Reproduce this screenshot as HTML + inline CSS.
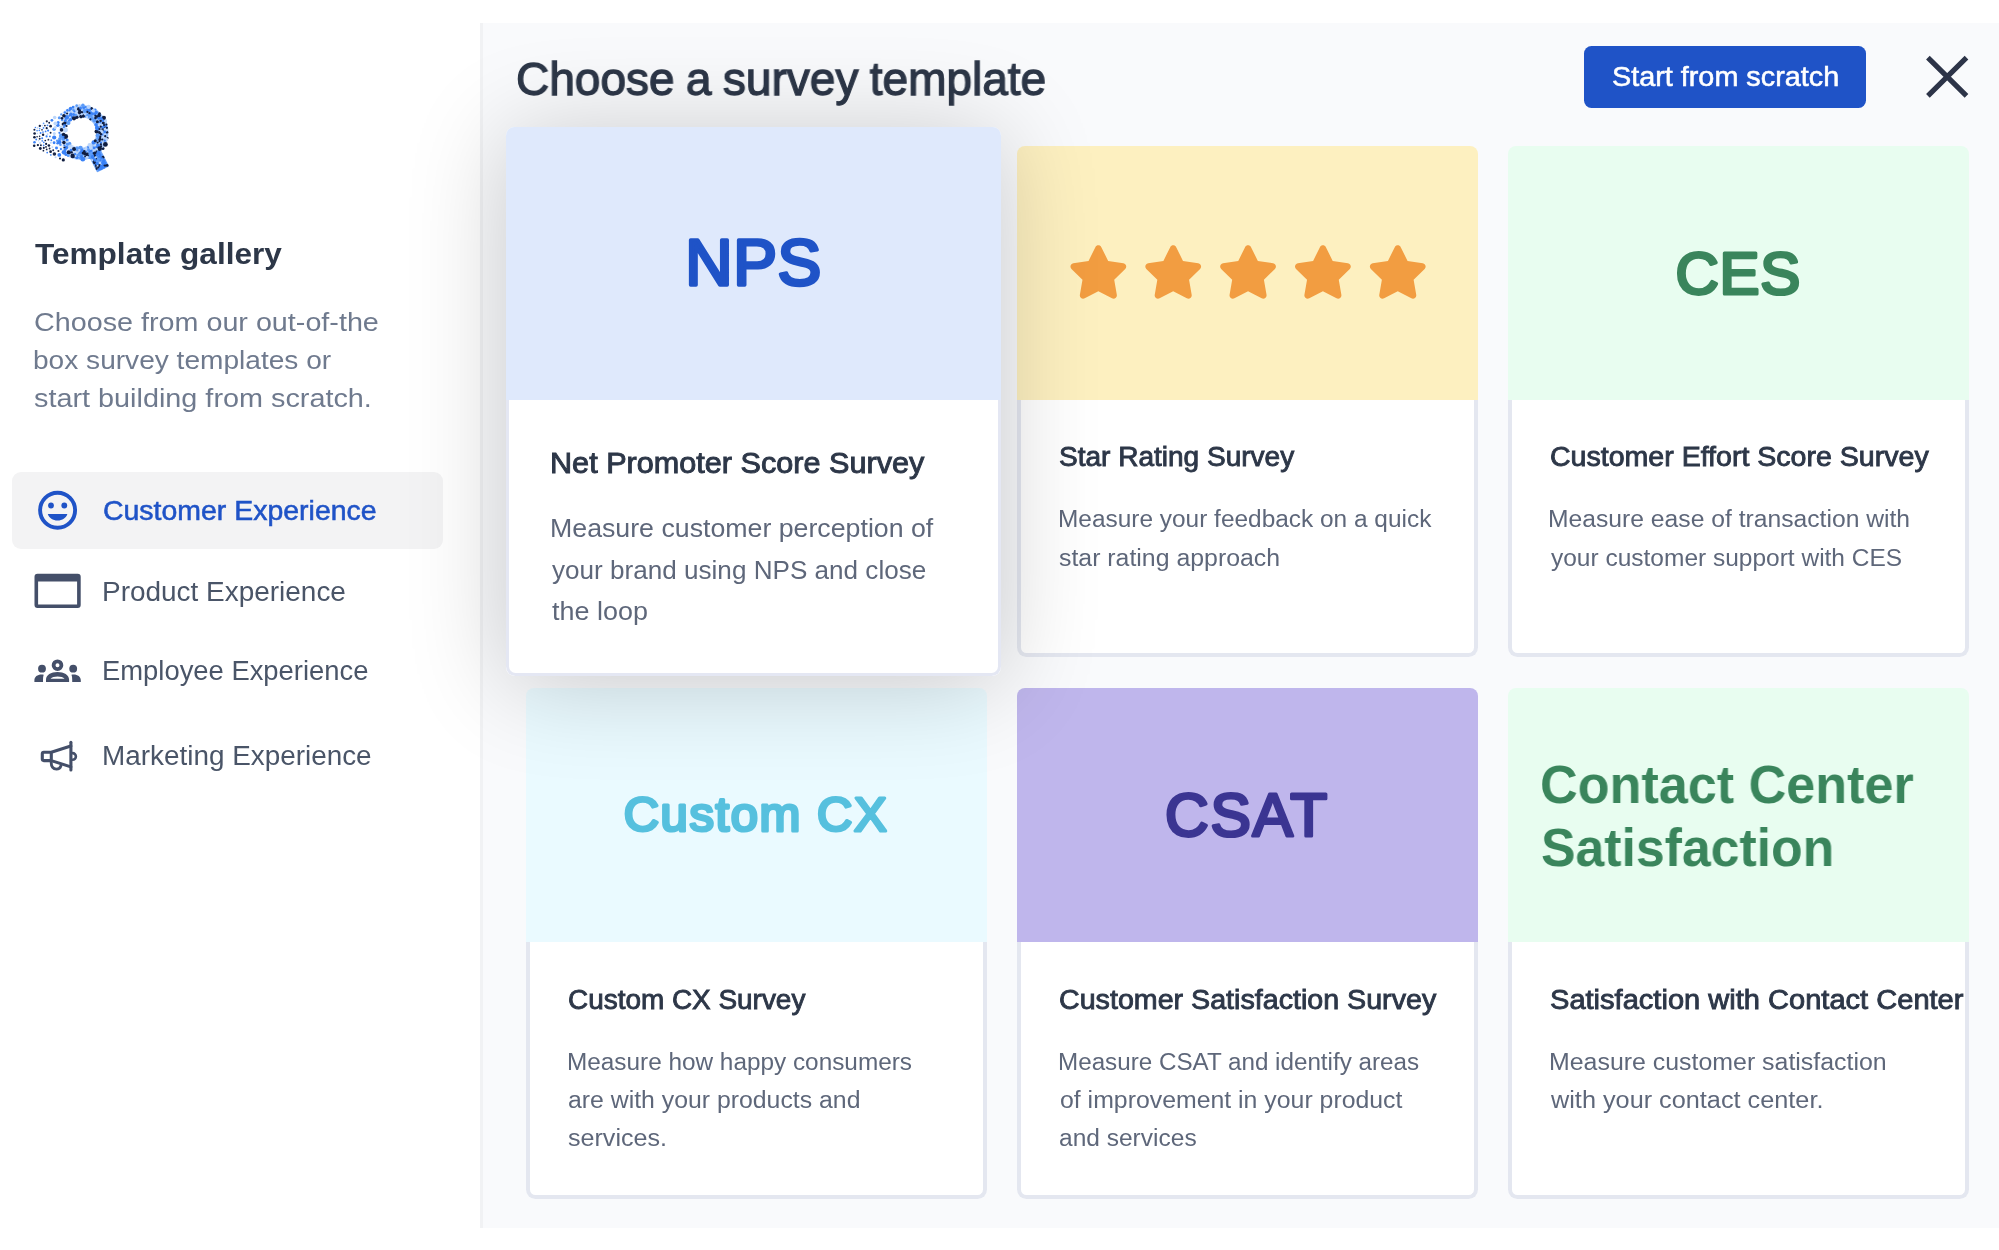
<!DOCTYPE html>
<html lang="en"><head><meta charset="utf-8"><title>Choose a survey template</title>
<style>
*{box-sizing:border-box;margin:0;padding:0}
html,body{width:1999px;height:1250px;overflow:hidden;background:#fff}
body{position:relative;font-family:"Liberation Sans",Arial,sans-serif;color:#2d3748}
.abs{position:absolute}
.tx{position:absolute;white-space:nowrap;line-height:1;transform-origin:0 50%;will-change:transform}
#main{position:absolute;left:480px;top:23px;width:1519px;height:1205px;background:#f9fafc;border-left:3px solid #f1f2f4}
.nav-active{position:absolute;left:12px;top:472px;width:431px;height:77px;background:#f3f3f4;border-radius:9px}
.btn{position:absolute;left:1584px;top:46px;width:282px;height:61.5px;background:#1f53c7;border-radius:7.5px}
.card{position:absolute;width:460.5px;height:511.4px}
.card .head{position:absolute;left:0;top:0;width:100%;height:254px;border-radius:8px 8px 0 0}
.card .body{position:absolute;left:0;top:254px;width:100%;bottom:0;background:#fff;border:4px solid #e4e7f0;border-top:none;border-radius:0 0 9.5px 9.5px}
.card.hover{left:506.4px;top:126.8px;width:494.8px;height:549.7px;box-shadow:0 7px 100px rgba(0,0,0,.2);z-index:5;border-radius:8.5px}
.card.hover .head{height:272.8px;border-radius:8.5px 8.5px 0 0}
.card.hover .body{top:272.8px;border-width:3.6px;border-color:#e4e7f3;border-radius:0 0 9.5px 9.5px}
</style></head>
<body>
<div id="main"></div>
<svg class="abs" style="left:0;top:0" width="140" height="200" viewBox="0 0 140 200"><defs><linearGradient id="lg" gradientUnits="userSpaceOnUse" x1="56" y1="0" x2="84" y2="0"><stop offset="0" stop-color="#6ea6f9" stop-opacity="0"/><stop offset="1" stop-color="#5b9bf8" stop-opacity=".6"/></linearGradient></defs>
<circle cx="81.0" cy="132.5" r="21.4" fill="none" stroke="url(#lg)" stroke-width="12.2"/>
<g transform="translate(98.6 160.5) rotate(-27)"><rect x="-6.8" y="-10" width="13.6" height="20" fill="#4a8ef7" opacity=".8" rx="1"/></g>
<circle cx="59.8" cy="139.0" r="1.8" fill="#5b9bf8"/>
<circle cx="91.9" cy="118.4" r="1.8" fill="#5b9bf8"/>
<circle cx="85.5" cy="116.4" r="1.1" fill="#5b9bf8"/>
<circle cx="98.8" cy="117.9" r="1.8" fill="#3b82f6"/>
<circle cx="102.7" cy="134.5" r="1.3" fill="#3b82f6"/>
<circle cx="69.5" cy="115.7" r="1.1" fill="#3b82f6"/>
<circle cx="103.2" cy="143.0" r="1.5" fill="#bcd6fb"/>
<circle cx="105.6" cy="125.9" r="1.3" fill="#3b82f6"/>
<circle cx="99.9" cy="139.0" r="1.8" fill="#0f1d40"/>
<circle cx="97.6" cy="142.6" r="1.1" fill="#0f1d40"/>
<circle cx="76.8" cy="117.3" r="1.8" fill="#0f1d40"/>
<circle cx="79.1" cy="115.5" r="1.1" fill="#bcd6fb"/>
<circle cx="96.6" cy="131.5" r="2.1" fill="#0f1d40"/>
<circle cx="94.5" cy="120.5" r="2.1" fill="#5b9bf8"/>
<circle cx="103.0" cy="148.5" r="1.5" fill="#0f1d40"/>
<circle cx="97.1" cy="140.6" r="1.1" fill="#5b9bf8"/>
<circle cx="66.5" cy="147.6" r="1.8" fill="#3b82f6"/>
<circle cx="94.2" cy="147.7" r="1.5" fill="#3b82f6"/>
<circle cx="88.7" cy="115.6" r="2.4" fill="#5b9bf8"/>
<circle cx="97.7" cy="146.2" r="2.4" fill="#3b82f6"/>
<circle cx="79.9" cy="157.7" r="1.5" fill="#5b9bf8"/>
<circle cx="105.4" cy="120.9" r="1.8" fill="#bcd6fb"/>
<circle cx="94.7" cy="114.3" r="1.3" fill="#3b82f6"/>
<circle cx="99.5" cy="141.1" r="1.1" fill="#0f1d40"/>
<circle cx="64.1" cy="152.3" r="2.4" fill="#3b82f6"/>
<circle cx="99.8" cy="122.7" r="1.5" fill="#3b82f6"/>
<circle cx="103.3" cy="123.1" r="1.5" fill="#0f1d40"/>
<circle cx="70.6" cy="108.5" r="1.8" fill="#3b82f6"/>
<circle cx="64.4" cy="147.6" r="1.1" fill="#0f1d40"/>
<circle cx="94.9" cy="144.9" r="1.5" fill="#bcd6fb"/>
<circle cx="78.9" cy="110.2" r="2.1" fill="#0f1d40"/>
<circle cx="81.0" cy="116.6" r="1.8" fill="#0f1d40"/>
<circle cx="97.3" cy="128.0" r="2.4" fill="#3b82f6"/>
<circle cx="80.4" cy="148.2" r="2.4" fill="#5b9bf8"/>
<circle cx="72.0" cy="117.0" r="1.3" fill="#3b82f6"/>
<circle cx="91.2" cy="150.7" r="1.3" fill="#3b82f6"/>
<circle cx="95.4" cy="109.5" r="1.1" fill="#3b82f6"/>
<circle cx="77.0" cy="154.9" r="1.5" fill="#5b9bf8"/>
<circle cx="66.7" cy="117.4" r="2.4" fill="#3b82f6"/>
<circle cx="84.9" cy="110.9" r="2.1" fill="#5b9bf8"/>
<circle cx="81.8" cy="112.3" r="1.3" fill="#0f1d40"/>
<circle cx="89.5" cy="157.0" r="2.1" fill="#5b9bf8"/>
<circle cx="99.1" cy="115.4" r="1.8" fill="#0f1d40"/>
<circle cx="96.1" cy="124.7" r="1.8" fill="#3b82f6"/>
<circle cx="102.7" cy="129.4" r="1.5" fill="#0f1d40"/>
<circle cx="54.2" cy="137.5" r="2.1" fill="#3b82f6"/>
<circle cx="91.8" cy="113.2" r="2.1" fill="#3b82f6"/>
<circle cx="61.2" cy="127.6" r="1.8" fill="#bcd6fb"/>
<circle cx="91.5" cy="108.6" r="1.5" fill="#0f1d40"/>
<circle cx="89.8" cy="145.5" r="2.4" fill="#bcd6fb"/>
<circle cx="68.7" cy="121.0" r="1.1" fill="#3b82f6"/>
<circle cx="63.9" cy="115.7" r="1.8" fill="#0f1d40"/>
<circle cx="87.5" cy="154.5" r="2.1" fill="#0f1d40"/>
<circle cx="100.7" cy="120.8" r="1.3" fill="#0f1d40"/>
<circle cx="107.0" cy="132.2" r="1.3" fill="#0f1d40"/>
<circle cx="63.1" cy="124.1" r="1.5" fill="#0f1d40"/>
<circle cx="93.6" cy="142.4" r="2.1" fill="#3b82f6"/>
<circle cx="104.7" cy="134.5" r="1.3" fill="#bcd6fb"/>
<circle cx="88.6" cy="109.9" r="2.4" fill="#3b82f6"/>
<circle cx="64.8" cy="124.9" r="1.5" fill="#3b82f6"/>
<circle cx="85.8" cy="149.6" r="1.5" fill="#bcd6fb"/>
<circle cx="68.8" cy="152.4" r="2.1" fill="#0f1d40"/>
<circle cx="87.0" cy="117.1" r="1.1" fill="#bcd6fb"/>
<circle cx="99.6" cy="124.9" r="1.8" fill="#bcd6fb"/>
<circle cx="76.6" cy="152.3" r="2.1" fill="#bcd6fb"/>
<circle cx="60.9" cy="149.1" r="1.1" fill="#3b82f6"/>
<circle cx="77.7" cy="113.4" r="1.3" fill="#bcd6fb"/>
<circle cx="69.7" cy="145.5" r="2.1" fill="#bcd6fb"/>
<circle cx="72.2" cy="112.1" r="2.4" fill="#bcd6fb"/>
<circle cx="82.8" cy="159.2" r="2.4" fill="#3b82f6"/>
<circle cx="90.7" cy="148.0" r="1.8" fill="#bcd6fb"/>
<circle cx="85.8" cy="151.5" r="1.1" fill="#3b82f6"/>
<circle cx="57.2" cy="140.7" r="1.3" fill="#5b9bf8"/>
<circle cx="57.8" cy="125.2" r="1.8" fill="#3b82f6"/>
<circle cx="89.4" cy="113.2" r="1.1" fill="#0f1d40"/>
<circle cx="59.3" cy="117.8" r="1.5" fill="#5b9bf8"/>
<circle cx="104.6" cy="127.6" r="1.1" fill="#0f1d40"/>
<circle cx="67.4" cy="144.1" r="1.8" fill="#5b9bf8"/>
<circle cx="97.3" cy="138.7" r="1.1" fill="#5b9bf8"/>
<circle cx="95.3" cy="140.8" r="1.5" fill="#0f1d40"/>
<circle cx="97.4" cy="121.8" r="1.5" fill="#0f1d40"/>
<circle cx="96.2" cy="112.6" r="1.8" fill="#3b82f6"/>
<circle cx="79.5" cy="105.3" r="1.3" fill="#bcd6fb"/>
<circle cx="74.1" cy="149.0" r="2.1" fill="#0f1d40"/>
<circle cx="88.5" cy="149.8" r="1.5" fill="#5b9bf8"/>
<circle cx="83.3" cy="116.0" r="1.8" fill="#0f1d40"/>
<circle cx="61.3" cy="135.9" r="2.4" fill="#5b9bf8"/>
<circle cx="95.5" cy="118.0" r="1.3" fill="#0f1d40"/>
<circle cx="72.8" cy="155.9" r="2.4" fill="#0f1d40"/>
<circle cx="54.3" cy="133.5" r="1.5" fill="#bcd6fb"/>
<circle cx="64.5" cy="145.5" r="1.1" fill="#3b82f6"/>
<circle cx="101.0" cy="134.1" r="1.3" fill="#0f1d40"/>
<circle cx="99.6" cy="148.6" r="2.4" fill="#0f1d40"/>
<circle cx="96.6" cy="149.4" r="1.3" fill="#bcd6fb"/>
<circle cx="107.6" cy="138.0" r="1.1" fill="#0f1d40"/>
<circle cx="83.7" cy="107.4" r="1.5" fill="#3b82f6"/>
<circle cx="105.7" cy="129.7" r="2.1" fill="#bcd6fb"/>
<circle cx="66.5" cy="126.0" r="1.1" fill="#0f1d40"/>
<circle cx="102.6" cy="146.6" r="1.1" fill="#bcd6fb"/>
<circle cx="103.9" cy="117.8" r="2.1" fill="#0f1d40"/>
<circle cx="82.3" cy="154.8" r="1.3" fill="#5b9bf8"/>
<circle cx="102.9" cy="126.8" r="1.8" fill="#3b82f6"/>
<circle cx="67.1" cy="140.1" r="1.5" fill="#3b82f6"/>
<circle cx="85.3" cy="156.5" r="1.1" fill="#0f1d40"/>
<circle cx="99.5" cy="132.6" r="1.5" fill="#0f1d40"/>
<circle cx="96.3" cy="151.8" r="1.3" fill="#0f1d40"/>
<circle cx="91.4" cy="115.7" r="1.3" fill="#5b9bf8"/>
<circle cx="84.2" cy="151.4" r="1.3" fill="#0f1d40"/>
<circle cx="77.0" cy="111.4" r="1.5" fill="#bcd6fb"/>
<circle cx="67.4" cy="110.4" r="1.3" fill="#3b82f6"/>
<circle cx="70.4" cy="119.7" r="1.8" fill="#3b82f6"/>
<circle cx="94.9" cy="155.8" r="1.3" fill="#0f1d40"/>
<circle cx="64.0" cy="127.2" r="1.1" fill="#3b82f6"/>
<circle cx="79.7" cy="154.4" r="2.1" fill="#5b9bf8"/>
<circle cx="103.0" cy="137.5" r="2.1" fill="#bcd6fb"/>
<circle cx="82.3" cy="149.8" r="1.1" fill="#3b82f6"/>
<circle cx="93.1" cy="110.8" r="1.8" fill="#bcd6fb"/>
<circle cx="73.4" cy="109.9" r="1.3" fill="#5b9bf8"/>
<circle cx="82.9" cy="105.4" r="1.8" fill="#5b9bf8"/>
<circle cx="94.2" cy="150.8" r="1.5" fill="#bcd6fb"/>
<circle cx="58.1" cy="122.4" r="1.5" fill="#3b82f6"/>
<circle cx="84.9" cy="114.3" r="1.1" fill="#bcd6fb"/>
<circle cx="75.7" cy="115.1" r="1.3" fill="#5b9bf8"/>
<circle cx="92.7" cy="152.8" r="1.1" fill="#3b82f6"/>
<circle cx="74.4" cy="111.4" r="1.1" fill="#3b82f6"/>
<circle cx="99.9" cy="136.8" r="1.5" fill="#0f1d40"/>
<circle cx="76.9" cy="157.5" r="1.8" fill="#3b82f6"/>
<circle cx="85.1" cy="153.8" r="1.8" fill="#0f1d40"/>
<circle cx="63.9" cy="142.6" r="1.8" fill="#0f1d40"/>
<circle cx="81.1" cy="151.9" r="2.1" fill="#3b82f6"/>
<circle cx="63.6" cy="134.6" r="1.8" fill="#0f1d40"/>
<circle cx="75.6" cy="156.0" r="1.1" fill="#bcd6fb"/>
<circle cx="89.7" cy="151.9" r="1.3" fill="#3b82f6"/>
<circle cx="65.1" cy="149.5" r="1.5" fill="#3b82f6"/>
<circle cx="71.5" cy="152.2" r="1.3" fill="#0f1d40"/>
<circle cx="101.6" cy="130.9" r="1.3" fill="#bcd6fb"/>
<circle cx="85.9" cy="107.0" r="1.1" fill="#3b82f6"/>
<circle cx="65.5" cy="130.0" r="2.4" fill="#bcd6fb"/>
<circle cx="106.4" cy="139.5" r="1.8" fill="#bcd6fb"/>
<circle cx="62.2" cy="120.0" r="1.3" fill="#5b9bf8"/>
<circle cx="87.4" cy="111.9" r="1.1" fill="#0f1d40"/>
<circle cx="105.4" cy="144.4" r="2.4" fill="#0f1d40"/>
<circle cx="104.7" cy="131.7" r="1.5" fill="#3b82f6"/>
<circle cx="61.2" cy="114.4" r="1.1" fill="#5b9bf8"/>
<circle cx="97.6" cy="135.5" r="2.1" fill="#5b9bf8"/>
<circle cx="90.3" cy="119.3" r="1.1" fill="#0f1d40"/>
<circle cx="102.0" cy="125.2" r="1.1" fill="#bcd6fb"/>
<circle cx="59.4" cy="132.8" r="1.1" fill="#3b82f6"/>
<circle cx="102.3" cy="132.5" r="1.1" fill="#bcd6fb"/>
<circle cx="103.0" cy="120.7" r="1.3" fill="#3b82f6"/>
<circle cx="73.1" cy="107.1" r="1.3" fill="#3b82f6"/>
<circle cx="61.5" cy="129.9" r="1.8" fill="#0f1d40"/>
<circle cx="90.4" cy="154.1" r="2.1" fill="#5b9bf8"/>
<circle cx="69.6" cy="110.4" r="1.1" fill="#3b82f6"/>
<circle cx="100.7" cy="126.7" r="1.1" fill="#0f1d40"/>
<circle cx="105.2" cy="136.2" r="1.1" fill="#0f1d40"/>
<circle cx="65.1" cy="122.8" r="1.8" fill="#0f1d40"/>
<circle cx="69.7" cy="143.3" r="1.5" fill="#5b9bf8"/>
<circle cx="99.5" cy="129.0" r="1.1" fill="#0f1d40"/>
<circle cx="102.3" cy="139.5" r="1.1" fill="#0f1d40"/>
<circle cx="81.5" cy="156.6" r="1.5" fill="#3b82f6"/>
<circle cx="70.9" cy="114.4" r="1.8" fill="#3b82f6"/>
<circle cx="68.2" cy="155.6" r="1.5" fill="#5b9bf8"/>
<circle cx="59.4" cy="142.2" r="2.1" fill="#3b82f6"/>
<circle cx="67.1" cy="113.5" r="1.1" fill="#0f1d40"/>
<circle cx="79.0" cy="150.4" r="1.3" fill="#bcd6fb"/>
<circle cx="99.5" cy="113.5" r="1.3" fill="#0f1d40"/>
<circle cx="65.4" cy="120.5" r="1.5" fill="#3b82f6"/>
<circle cx="71.0" cy="150.1" r="1.3" fill="#3b82f6"/>
<circle cx="87.9" cy="147.3" r="1.1" fill="#3b82f6"/>
<circle cx="96.9" cy="116.5" r="1.3" fill="#0f1d40"/>
<circle cx="54.1" cy="129.3" r="1.8" fill="#5b9bf8"/>
<circle cx="68.4" cy="123.0" r="2.1" fill="#5b9bf8"/>
<circle cx="101.0" cy="142.8" r="1.1" fill="#3b82f6"/>
<circle cx="77.0" cy="147.8" r="1.5" fill="#5b9bf8"/>
<circle cx="106.4" cy="124.5" r="1.1" fill="#0f1d40"/>
<circle cx="63.3" cy="138.9" r="2.1" fill="#5b9bf8"/>
<circle cx="80.5" cy="107.9" r="1.5" fill="#3b82f6"/>
<circle cx="62.0" cy="118.2" r="1.3" fill="#0f1d40"/>
<circle cx="98.5" cy="152.9" r="2.1" fill="#3b82f6"/>
<circle cx="74.0" cy="118.3" r="2.1" fill="#0f1d40"/>
<circle cx="65.7" cy="136.5" r="2.4" fill="#0f1d40"/>
<circle cx="86.1" cy="147.7" r="1.3" fill="#bcd6fb"/>
<circle cx="60.4" cy="144.8" r="1.3" fill="#5b9bf8"/>
<circle cx="57.6" cy="143.3" r="1.3" fill="#3b82f6"/>
<circle cx="88.6" cy="106.9" r="2.1" fill="#bcd6fb"/>
<circle cx="101.1" cy="146.3" r="1.1" fill="#0f1d40"/>
<circle cx="65.9" cy="154.6" r="1.5" fill="#3b82f6"/>
<circle cx="64.9" cy="112.5" r="1.3" fill="#3b82f6"/>
<circle cx="75.1" cy="154.0" r="1.1" fill="#3b82f6"/>
<circle cx="104.1" cy="125.0" r="1.1" fill="#0f1d40"/>
<circle cx="104.8" cy="140.7" r="1.1" fill="#3b82f6"/>
<circle cx="100.9" cy="144.3" r="1.1" fill="#0f1d40"/>
<circle cx="73.6" cy="114.6" r="1.5" fill="#3b82f6"/>
<circle cx="77.2" cy="150.1" r="1.3" fill="#5b9bf8"/>
<circle cx="101.1" cy="118.6" r="1.5" fill="#3b82f6"/>
<circle cx="83.2" cy="152.9" r="1.5" fill="#0f1d40"/>
<circle cx="78.3" cy="108.3" r="1.1" fill="#0f1d40"/>
<circle cx="79.6" cy="112.6" r="1.8" fill="#0f1d40"/>
<circle cx="92.6" cy="156.9" r="1.8" fill="#3b82f6"/>
<circle cx="106.9" cy="127.8" r="1.1" fill="#0f1d40"/>
<circle cx="55.2" cy="127.4" r="1.5" fill="#bcd6fb"/>
<circle cx="87.1" cy="157.3" r="1.5" fill="#bcd6fb"/>
<circle cx="63.5" cy="136.9" r="1.1" fill="#3b82f6"/>
<circle cx="67.4" cy="141.9" r="1.1" fill="#bcd6fb"/>
<circle cx="98.2" cy="137.7" r="1.1" fill="#5b9bf8"/>
<circle cx="81.7" cy="114.3" r="1.1" fill="#bcd6fb"/>
<circle cx="76.7" cy="105.6" r="1.3" fill="#5b9bf8"/>
<circle cx="95.4" cy="115.8" r="1.1" fill="#0f1d40"/>
<circle cx="55.5" cy="123.5" r="2.1" fill="#bcd6fb"/>
<circle cx="97.5" cy="156.5" r="1.4" fill="#5b9bf8"/>
<circle cx="103.8" cy="160.7" r="1.7" fill="#3b82f6"/>
<circle cx="99.9" cy="157.0" r="2.0" fill="#3b82f6"/>
<circle cx="96.3" cy="166.7" r="1.1" fill="#0f1d40"/>
<circle cx="100.5" cy="163.5" r="2.0" fill="#bcd6fb"/>
<circle cx="94.6" cy="162.6" r="1.7" fill="#0f1d40"/>
<circle cx="96.4" cy="158.9" r="1.1" fill="#0f1d40"/>
<circle cx="98.6" cy="159.6" r="2.0" fill="#5b9bf8"/>
<circle cx="93.5" cy="160.9" r="1.1" fill="#0f1d40"/>
<circle cx="103.0" cy="157.2" r="1.4" fill="#0f1d40"/>
<circle cx="99.4" cy="165.8" r="1.7" fill="#0f1d40"/>
<circle cx="96.0" cy="165.1" r="1.1" fill="#0f1d40"/>
<circle cx="103.6" cy="164.5" r="1.4" fill="#3b82f6"/>
<circle cx="96.7" cy="168.8" r="1.1" fill="#0f1d40"/>
<circle cx="103.6" cy="166.7" r="2.0" fill="#3b82f6"/>
<circle cx="105.1" cy="165.3" r="1.4" fill="#0f1d40"/>
<circle cx="100.5" cy="160.3" r="1.1" fill="#3b82f6"/>
<circle cx="100.9" cy="168.2" r="2.0" fill="#3b82f6"/>
<circle cx="101.4" cy="166.0" r="1.4" fill="#3b82f6"/>
<circle cx="94.6" cy="153.3" r="1.7" fill="#0f1d40"/>
<circle cx="102.7" cy="162.7" r="1.7" fill="#3b82f6"/>
<circle cx="98.9" cy="169.6" r="1.1" fill="#3b82f6"/>
<circle cx="97.1" cy="163.4" r="1.7" fill="#3b82f6"/>
<circle cx="92.3" cy="160.2" r="1.1" fill="#bcd6fb"/>
<circle cx="100.2" cy="154.9" r="1.4" fill="#3b82f6"/>
<circle cx="95.0" cy="160.1" r="1.7" fill="#3b82f6"/>
<circle cx="107.1" cy="165.4" r="1.4" fill="#0f1d40"/>
<circle cx="93.4" cy="158.6" r="1.1" fill="#3b82f6"/>
<circle cx="102.0" cy="158.4" r="1.1" fill="#3b82f6"/>
<circle cx="105.0" cy="163.1" r="1.7" fill="#3b82f6"/>
<circle cx="97.6" cy="166.2" r="1.1" fill="#bcd6fb"/>
<circle cx="95.7" cy="157.3" r="1.1" fill="#bcd6fb"/>
<circle cx="98.2" cy="167.4" r="1.1" fill="#0f1d40"/>
<circle cx="97.0" cy="154.8" r="1.4" fill="#3b82f6"/>
<circle cx="43.8" cy="147.9" r="1.04" fill="#0f1d40"/>
<circle cx="56.5" cy="148.1" r="1.48" fill="#3b82f6"/>
<circle cx="54.7" cy="117.5" r="1.78" fill="#bcd6fb"/>
<circle cx="50.6" cy="126.2" r="1.36" fill="#0f1d40"/>
<circle cx="50.6" cy="151.7" r="1.36" fill="#0f1d40"/>
<circle cx="59.3" cy="154.9" r="1.89" fill="#3b82f6"/>
<circle cx="40.9" cy="145.2" r="0.99" fill="#1e2a4a"/>
<circle cx="43.1" cy="134.7" r="1.22" fill="#0f1d40"/>
<circle cx="34.6" cy="133.5" r="1.30" fill="#0f1d40"/>
<circle cx="37.1" cy="130.6" r="0.93" fill="#5b9bf8"/>
<circle cx="54.4" cy="153.9" r="1.77" fill="#1e2a4a"/>
<circle cx="42.3" cy="125.6" r="0.83" fill="#bcd6fb"/>
<circle cx="37.9" cy="145.1" r="1.12" fill="#0f1d40"/>
<circle cx="40.1" cy="142.9" r="0.98" fill="#bcd6fb"/>
<circle cx="47.5" cy="125.3" r="0.90" fill="#3b82f6"/>
<circle cx="39.7" cy="128.6" r="0.80" fill="#5b9bf8"/>
<circle cx="54.1" cy="142.7" r="1.43" fill="#3b82f6"/>
<circle cx="63.3" cy="159.9" r="1.61" fill="#0f1d40"/>
<circle cx="43.5" cy="127.9" r="0.85" fill="#3b82f6"/>
<circle cx="48.9" cy="145.5" r="1.33" fill="#0f1d40"/>
<circle cx="46.7" cy="149.4" r="0.89" fill="#0f1d40"/>
<circle cx="39.7" cy="138.7" r="0.97" fill="#1e2a4a"/>
<circle cx="46.8" cy="121.3" r="1.09" fill="#1e2a4a"/>
<circle cx="47.5" cy="134.1" r="0.90" fill="#bcd6fb"/>
<circle cx="51.9" cy="120.3" r="1.39" fill="#3b82f6"/>
<circle cx="48.4" cy="139.7" r="0.91" fill="#1e2a4a"/>
<circle cx="37.5" cy="127.9" r="0.94" fill="#bcd6fb"/>
<circle cx="46.6" cy="136.4" r="1.09" fill="#3b82f6"/>
<circle cx="51.3" cy="140.3" r="0.95" fill="#3b82f6"/>
<circle cx="43.4" cy="150.7" r="0.85" fill="#0f1d40"/>
<circle cx="34.4" cy="129.8" r="1.05" fill="#0f1d40"/>
<circle cx="45.6" cy="131.4" r="0.88" fill="#3b82f6"/>
<circle cx="46.1" cy="143.9" r="1.08" fill="#0f1d40"/>
<circle cx="37.3" cy="133.4" r="0.76" fill="#bcd6fb"/>
<circle cx="50.6" cy="132.8" r="0.94" fill="#0f1d40"/>
<circle cx="49.9" cy="136.4" r="0.94" fill="#3b82f6"/>
<circle cx="39.6" cy="136.2" r="0.80" fill="#0f1d40"/>
<circle cx="49.2" cy="122.7" r="0.93" fill="#0f1d40"/>
<circle cx="49.6" cy="148.5" r="0.93" fill="#1e2a4a"/>
<circle cx="36.2" cy="139.5" r="0.92" fill="#3b82f6"/>
<circle cx="46.7" cy="128.2" r="1.09" fill="#0f1d40"/>
<circle cx="40.3" cy="148.5" r="1.43" fill="#0f1d40"/>
<circle cx="52.4" cy="147.1" r="0.97" fill="#bcd6fb"/>
<circle cx="42.2" cy="138.2" r="1.01" fill="#3b82f6"/>
<circle cx="43.6" cy="123.3" r="0.85" fill="#5b9bf8"/>
<circle cx="53.2" cy="150.3" r="0.98" fill="#1e2a4a"/>
<circle cx="45.3" cy="140.5" r="0.87" fill="#0f1d40"/>
<circle cx="34.5" cy="142.3" r="1.29" fill="#3b82f6"/>
<circle cx="48.1" cy="130.6" r="1.11" fill="#3b82f6"/>
<circle cx="39.8" cy="125.9" r="1.15" fill="#0f1d40"/>
<circle cx="40.6" cy="133.0" r="0.99" fill="#3b82f6"/>
<circle cx="42.0" cy="129.8" r="0.83" fill="#0f1d40"/>
<circle cx="43.8" cy="142.3" r="0.85" fill="#3b82f6"/>
<circle cx="47.2" cy="152.6" r="0.90" fill="#3b82f6"/>
<circle cx="38.6" cy="140.7" r="0.78" fill="#bcd6fb"/>
<circle cx="60.0" cy="158.5" r="1.07" fill="#0f1d40"/>
<circle cx="34.4" cy="137.3" r="1.29" fill="#0f1d40"/>
<circle cx="50.8" cy="142.7" r="0.95" fill="#bcd6fb"/>
<circle cx="50.8" cy="154.9" r="0.95" fill="#5b9bf8"/>
<circle cx="34.2" cy="145.8" r="1.28" fill="#0f1d40"/>
<circle cx="44.9" cy="125.6" r="0.87" fill="#0f1d40"/>
<circle cx="55.6" cy="157.3" r="1.01" fill="#bcd6fb"/>
<circle cx="35.4" cy="127.6" r="0.74" fill="#3b82f6"/>
<circle cx="37.1" cy="136.7" r="0.76" fill="#0f1d40"/>
<circle cx="58.4" cy="151.0" r="1.05" fill="#1e2a4a"/>
<circle cx="39.3" cy="130.5" r="0.79" fill="#3b82f6"/>
<circle cx="43.0" cy="132.1" r="0.84" fill="#3b82f6"/>
<circle cx="46.0" cy="146.9" r="0.88" fill="#0f1d40"/>
<circle cx="42.2" cy="140.9" r="0.83" fill="#3b82f6"/>
<circle cx="43.7" cy="145.3" r="0.85" fill="#3b82f6"/></svg>
<div class="nav-active"></div>
<svg class="abs" style="left:0;top:480px" width="100" height="300" viewBox="0 480 100 300">
<g fill="#1f53c7"><circle cx="57.6" cy="510.3" r="17.5" fill="none" stroke="#1f53c7" stroke-width="3.9"/><circle cx="51" cy="505.500" r="2.900"/><circle cx="64.300" cy="505.500" r="2.900"/><path d="M47.800 514h19.600c-1.300 3.900-5.100 6.500-9.800 6.500s-8.500-2.600-9.800-6.500z"/></g>
<g fill="#444f69"><path d="M34.500 576.800a3 3 0 0 1 3-3h40.200a3 3 0 0 1 3 3v28.200a3 3 0 0 1-3 3h-40.200a3 3 0 0 1-3-3z M38.100 581.600v22.800h39v-22.800z" fill-rule="evenodd"/></g>
<g fill="#444f69"><circle cx="57.500" cy="665.200" r="3.900" fill="none" stroke="#444f69" stroke-width="3.800"/><path d="M46 682.100v-2.400c0-4.700 5-7.600 11.500-7.600s11.600 2.900 11.600 7.600v2.400z M50.500 678.800h14.100c-1.400-1.600-4-2.400-7-2.400s-5.700.8-7.100 2.400z" fill-rule="evenodd"/><circle cx="42" cy="668.700" r="3.900"/><circle cx="73.200" cy="668.700" r="3.900"/><path d="M34.400 682.100v-1.600c0-3.700 3-5.900 7.200-5.900.8 0 1.500.1 2.100.2-.5 1.400-.7 2.900-.7 4.700v2.600z"/><path d="M80.800 682.100v-1.600c0-3.700-3-5.900-7.200-5.900-.8 0-1.500.1-2.100.2.500 1.400.7 2.900.7 4.700v2.600z"/></g>
<g fill="none" stroke="#444f69" stroke-width="3.100" stroke-linejoin="round" stroke-linecap="round"><rect x="42.300" y="752.300" width="9" height="8.300" rx="1.500"/><path d="M51.300 752.300l19.500-6.300M51.300 760.600l19.500 6.300"/><path d="M70.900 742.200v27.800"/><path d="M51.200 762.500c0 4 2 6.600 5.200 6.600 2.300 0 3.900-1.300 4.500-3.300" stroke-width="2.900"/><path d="M72.600 753.100a3.300 3.300 0 0 1 0 6.600" stroke-width="2.600"/></g>
</svg>

<div class="btn"></div>
<svg class="abs" style="left:1924px;top:54px" width="46" height="46" viewBox="0 0 46 46"><path d="M3.900 3.700l38.600 38.100M42.500 3.700l-38.600 38.100" stroke="#2d3448" stroke-width="5.200" fill="none"/></svg>
<div class="card " style="left:1017px;top:146px"><div class="head" style="background:#fdf0c0"><svg class="abs" style="left:53px;top:99px" width="360" height="56" viewBox="0 0 360 56"><path d="M259.3 17.8L194 150.2 47.9 171.5c-26.2 3.8-36.7 36.1-17.7 54.6l105.7 103-25 145.5c-4.5 26.3 23.2 46 46.4 33.700L288 439.600l130.700 68.700c23.200 12.200 50.900-7.400 46.400-33.700l-25-145.500 105.700-103c19-18.500 8.500-50.800-17.700-54.600L382 150.200 316.700 17.800c-11.700-23.600-45.600-23.900-57.400 0z" transform="translate(0.40 0.3) scale(0.1043) translate(-20 0)" fill="#f29d41"/><path d="M259.3 17.8L194 150.2 47.9 171.5c-26.2 3.8-36.7 36.1-17.7 54.6l105.7 103-25 145.5c-4.5 26.3 23.2 46 46.4 33.700L288 439.600l130.700 68.700c23.200 12.200 50.900-7.400 46.400-33.700l-25-145.500 105.700-103c19-18.500 8.500-50.800-17.700-54.600L382 150.200 316.700 17.800c-11.700-23.600-45.600-23.900-57.400 0z" transform="translate(75.25 0.3) scale(0.1043) translate(-20 0)" fill="#f29d41"/><path d="M259.3 17.8L194 150.2 47.9 171.5c-26.2 3.8-36.7 36.1-17.7 54.6l105.7 103-25 145.5c-4.5 26.3 23.2 46 46.4 33.700L288 439.600l130.700 68.700c23.200 12.200 50.900-7.400 46.400-33.700l-25-145.500 105.700-103c19-18.500 8.500-50.800-17.700-54.600L382 150.200 316.700 17.800c-11.700-23.600-45.600-23.900-57.400 0z" transform="translate(150.10 0.3) scale(0.1043) translate(-20 0)" fill="#f29d41"/><path d="M259.3 17.8L194 150.2 47.9 171.5c-26.2 3.8-36.7 36.1-17.7 54.6l105.7 103-25 145.5c-4.5 26.3 23.2 46 46.4 33.700L288 439.600l130.700 68.700c23.200 12.200 50.900-7.400 46.400-33.700l-25-145.500 105.700-103c19-18.500 8.500-50.800-17.700-54.600L382 150.200 316.700 17.800c-11.700-23.600-45.600-23.900-57.400 0z" transform="translate(224.95 0.3) scale(0.1043) translate(-20 0)" fill="#f29d41"/><path d="M259.3 17.8L194 150.2 47.9 171.5c-26.2 3.8-36.7 36.1-17.7 54.6l105.7 103-25 145.5c-4.5 26.3 23.2 46 46.4 33.700L288 439.600l130.700 68.700c23.200 12.200 50.900-7.400 46.400-33.700l-25-145.500 105.700-103c19-18.500 8.500-50.800-17.700-54.600L382 150.200 316.700 17.800c-11.700-23.600-45.600-23.900-57.400 0z" transform="translate(299.80 0.3) scale(0.1043) translate(-20 0)" fill="#f29d41"/></svg></div><div class="body"></div></div>
<div class="card " style="left:1508px;top:146px"><div class="head" style="background:#e8fdf0"></div><div class="body"></div></div>
<div class="card " style="left:526px;top:688px"><div class="head" style="background:#eafaff"></div><div class="body"></div></div>
<div class="card " style="left:1017px;top:688px"><div class="head" style="background:#bfb6ec"></div><div class="body"></div></div>
<div class="card " style="left:1508px;top:688px"><div class="head" style="background:#e8fdf0"></div><div class="body"></div></div>
<div class="card hover"><div class="head" style="background:#dfe9fc"></div><div class="body"></div></div>
<div id="title" class="tx" style="left:515.93px;top:55.31px;font-size:47px;font-weight:400;color:#2d3748;-webkit-text-stroke:1.3px #2d3748;word-spacing:-1.5px;transform:scaleX(0.9792);z-index:2">Choose a survey template</div>
<div id="btn" class="tx" style="left:1611.53px;top:62.80px;font-size:28px;font-weight:400;color:#ffffff;-webkit-text-stroke:0.56px #ffffff;transform:scaleX(1.0281);z-index:2">Start from scratch</div>
<div id="stitle" class="tx" style="left:35.14px;top:240.45px;font-size:29px;font-weight:700;color:#2d3748;transform:scaleX(1.0889);z-index:2">Template gallery</div>
<div id="sd1" class="tx" style="left:33.79px;top:308.99px;font-size:26px;font-weight:400;color:#6f7a8e;transform:scaleX(1.1047);z-index:2">Choose from our out-of-the</div>
<div id="sd2" class="tx" style="left:32.85px;top:346.99px;font-size:26px;font-weight:400;color:#6f7a8e;transform:scaleX(1.0803);z-index:2">box survey templates or</div>
<div id="sd3" class="tx" style="left:33.58px;top:385.39px;font-size:26px;font-weight:400;color:#6f7a8e;transform:scaleX(1.1082);z-index:2">start building from scratch.</div>
<div id="nav1" class="tx" style="left:102.70px;top:497.74px;font-size:27px;font-weight:400;color:#1f53c7;-webkit-text-stroke:0.54px #1f53c7;transform:scaleX(1.0539);z-index:2">Customer Experience</div>
<div id="nav2" class="tx" style="left:102.22px;top:578.54px;font-size:27px;font-weight:400;color:#4a5568;transform:scaleX(1.0351);z-index:2">Product Experience</div>
<div id="nav3" class="tx" style="left:102.33px;top:657.64px;font-size:27px;font-weight:400;color:#4a5568;transform:scaleX(1.0144);z-index:2">Employee Experience</div>
<div id="nav4" class="tx" style="left:102.23px;top:743.14px;font-size:27px;font-weight:400;color:#4a5568;transform:scaleX(1.0325);z-index:2">Marketing Experience</div>
<div id="c2t" class="tx" style="left:1058.89px;top:443.64px;font-size:27px;font-weight:400;color:#2d3748;-webkit-text-stroke:0.86px #2d3748;transform:scaleX(1.0378);z-index:2">Star Rating Survey</div>
<div id="c2d1" class="tx" style="left:1057.94px;top:507.61px;font-size:23.5px;font-weight:400;color:#5e677a;transform:scaleX(1.0393);z-index:2">Measure your feedback on a quick</div>
<div id="c2d2" class="tx" style="left:1059.07px;top:546.71px;font-size:23.5px;font-weight:400;color:#5e677a;transform:scaleX(1.0576);z-index:2">star rating approach</div>
<div id="c3t" class="tx" style="left:1549.80px;top:444.34px;font-size:27px;font-weight:400;color:#2d3748;-webkit-text-stroke:0.86px #2d3748;transform:scaleX(1.0573);z-index:2">Customer Effort Score Survey</div>
<div id="c3d1" class="tx" style="left:1548.49px;top:507.61px;font-size:23.5px;font-weight:400;color:#5e677a;transform:scaleX(1.0500);z-index:2">Measure ease of transaction with</div>
<div id="c3d2" class="tx" style="left:1550.85px;top:546.71px;font-size:23.5px;font-weight:400;color:#5e677a;transform:scaleX(1.0421);z-index:2">your customer support with CES</div>
<div id="c4t" class="tx" style="left:568.26px;top:986.64px;font-size:27px;font-weight:400;color:#2d3748;-webkit-text-stroke:0.86px #2d3748;transform:scaleX(1.0339);z-index:2">Custom CX Survey</div>
<div id="c4d1" class="tx" style="left:566.85px;top:1051.11px;font-size:23.5px;font-weight:400;color:#5e677a;transform:scaleX(1.0357);z-index:2">Measure how happy consumers</div>
<div id="c4d2" class="tx" style="left:568.46px;top:1089.01px;font-size:23.5px;font-weight:400;color:#5e677a;transform:scaleX(1.0560);z-index:2">are with your products and</div>
<div id="c4d3" class="tx" style="left:567.90px;top:1126.71px;font-size:23.5px;font-weight:400;color:#5e677a;transform:scaleX(1.0677);z-index:2">services.</div>
<div id="c5t" class="tx" style="left:1059.23px;top:986.64px;font-size:27px;font-weight:400;color:#2d3748;-webkit-text-stroke:0.86px #2d3748;transform:scaleX(1.0607);z-index:2">Customer Satisfaction Survey</div>
<div id="c5d1" class="tx" style="left:1057.91px;top:1051.11px;font-size:23.5px;font-weight:400;color:#5e677a;transform:scaleX(1.0302);z-index:2">Measure CSAT and identify areas</div>
<div id="c5d2" class="tx" style="left:1059.68px;top:1089.01px;font-size:23.5px;font-weight:400;color:#5e677a;transform:scaleX(1.0571);z-index:2">of improvement in your product</div>
<div id="c5d3" class="tx" style="left:1059.46px;top:1126.71px;font-size:23.5px;font-weight:400;color:#5e677a;transform:scaleX(1.0434);z-index:2">and services</div>
<div id="c6t" class="tx" style="left:1550.43px;top:986.64px;font-size:27px;font-weight:400;color:#2d3748;-webkit-text-stroke:0.86px #2d3748;transform:scaleX(1.0762);z-index:2">Satisfaction with Contact Center</div>
<div id="c6d1" class="tx" style="left:1549.44px;top:1051.11px;font-size:23.5px;font-weight:400;color:#5e677a;transform:scaleX(1.0596);z-index:2">Measure customer satisfaction</div>
<div id="c6d2" class="tx" style="left:1551.29px;top:1089.01px;font-size:23.5px;font-weight:400;color:#5e677a;transform:scaleX(1.0751);z-index:2">with your contact center.</div>
<div id="c6h1" class="tx" style="left:1540.30px;top:757.29px;font-size:54px;font-weight:700;color:#3a855c;transform:scaleX(0.9657);z-index:2">Contact Center</div>
<div id="c6h2" class="tx" style="left:1540.82px;top:819.69px;font-size:54px;font-weight:700;color:#3a855c;transform:scaleX(0.9584);z-index:2">Satisfaction</div>
<div id="c1t" class="tx" style="left:550.25px;top:448.55px;font-size:29px;font-weight:400;color:#2d3748;-webkit-text-stroke:0.93px #2d3748;transform:scaleX(1.0557);z-index:7">Net Promoter Score Survey</div>
<div id="c1d1" class="tx" style="left:550.15px;top:516.18px;font-size:25.3px;font-weight:400;color:#5e677a;transform:scaleX(1.0565);z-index:7">Measure customer perception of</div>
<div id="c1d2" class="tx" style="left:552.06px;top:557.58px;font-size:25.3px;font-weight:400;color:#5e677a;transform:scaleX(1.0316);z-index:7">your brand using NPS and close</div>
<div id="c1d3" class="tx" style="left:551.60px;top:598.68px;font-size:25.3px;font-weight:400;color:#5e677a;transform:scaleX(1.0649);z-index:7">the loop</div>
<svg id="hnps" class="tx" style="left:0;top:0;z-index:7" width="1999" height="1250"><text x="685.27" y="285.25" font-family="Liberation Sans, Arial, sans-serif" font-size="65.5" letter-spacing="0.677" fill="#1f53c7" stroke="#1f53c7" stroke-width="3.5" stroke-linejoin="round" stroke-linecap="round">NPS</text></svg>
<svg id="hces" class="tx" style="left:0;top:0;z-index:2" width="1999" height="1250"><text x="1675.40" y="293.70" font-family="Liberation Sans, Arial, sans-serif" font-size="60" letter-spacing="0.748" fill="#3a855c" stroke="#3a855c" stroke-width="3.2" stroke-linejoin="round" stroke-linecap="round">CES</text></svg>
<svg id="hcx" class="tx" style="left:0;top:0;z-index:2" width="1999" height="1250"><text x="623.65" y="831.20" font-family="Liberation Sans, Arial, sans-serif" font-size="49" letter-spacing="1.573" fill="#56c0de" stroke="#56c0de" stroke-width="3.2" stroke-linejoin="round" stroke-linecap="round">Custom CX</text></svg>
<svg id="hcsat" class="tx" style="left:0;top:0;z-index:2" width="1999" height="1250"><text x="1164.90" y="835.90" font-family="Liberation Sans, Arial, sans-serif" font-size="60.5" letter-spacing="1.822" fill="#3b3592" stroke="#3b3592" stroke-width="3.2" stroke-linejoin="round" stroke-linecap="round">CSAT</text></svg>
</body></html>
